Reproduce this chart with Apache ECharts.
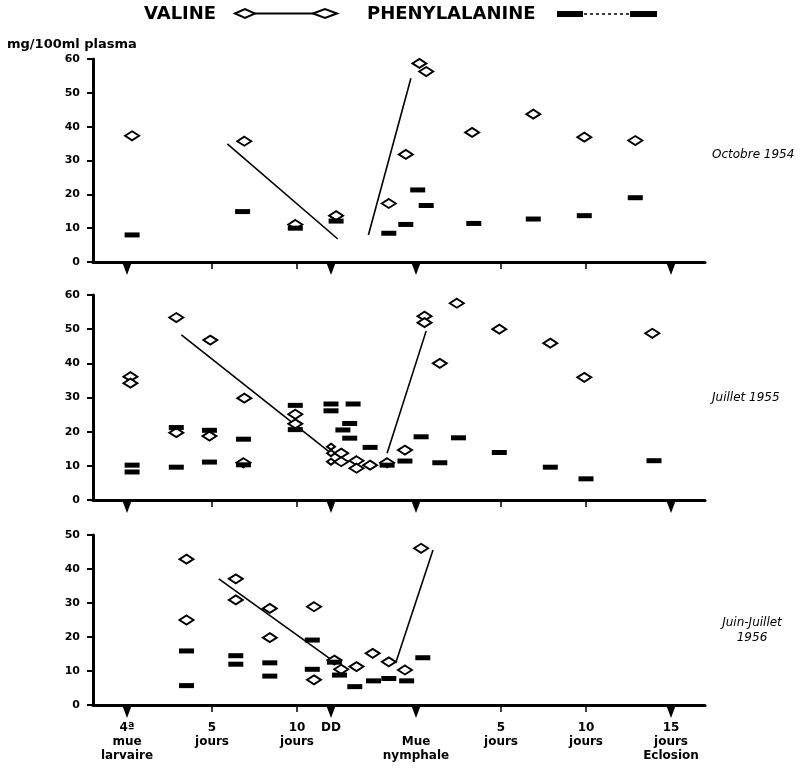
<!DOCTYPE html>
<html>
<head>
<meta charset="utf-8">
<script src="https://cdn.jsdelivr.net/npm/echarts@6/dist/echarts.min.js"></script>
<style>
html,body{margin:0;padding:0;background:#fff}
#chart{width:806px;height:772px}
</style>
</head>
<body>
<div id="chart"></div>
<script>
// axe des x en jours (0 = 4e mue larvaire, 17 = mue nymphale)
var xTickValues = [0, 5, 10, 12, 17, 22, 27, 32];
var xTickLabels = ['4ª\nmue\nlarvaire', '5\njours', '10\njours', 'DD', ' \nMue\nnymphale', '5\njours', '10\njours', '15\njours\nEclosion'];
var bigTicks = [0, 12, 17, 32];
var smallTicks = [5, 10, 22, 27];
var panelNames = ['Octobre 1954', 'Juillet 1955', 'Juin-Juillet\n1956'];
var yMaxes = [60, 60, 50];

// Octobre 1954
var valine1954 = [[0.3,37.3],[6.9,35.7],[9.9,11.1],[12.3,13.7],[15.4,17.3],[16.4,31.8],[17.2,58.7],[17.6,56.3],[20.3,38.3],[23.9,43.7],[26.9,36.9],[29.9,35.9]];
var phenyl1954 = [[0.3,8.0],[6.8,14.9],[9.9,10.0],[12.3,12.1],[15.4,8.5],[16.4,11.1],[17.1,21.3],[17.6,16.7],[20.4,11.4],[23.9,12.7],[26.9,13.7],[29.9,19.0]];
var trend1954 = [[[5.9,34.9],[12.4,6.8]], [[14.2,8.0],[16.7,54.3]]];

// Juillet 1955
var valine1955 = [[0.2,36.1],[0.2,34.2],[2.9,53.4],[2.9,19.7],[4.9,46.8],[4.85,18.7],[6.9,29.8],[6.85,10.9],[9.9,25.1],[9.9,22.3],[12.6,13.7],[12.6,11.2],[13.5,11.5],[13.5,9.3],[14.3,10.2],[15.3,10.9],[16.35,14.6],[17.5,53.8],[17.5,51.9],[18.4,40.0],[19.4,57.6],[21.9,50.0],[24.9,45.9],[26.9,35.9],[30.9,48.8]];
var valine1955Small = [[12.0,15.6],[12.0,13.7],[12.0,11.2]];
var phenyl1955 = [[0.3,10.2],[0.3,8.2],[2.9,21.2],[2.9,9.6],[4.85,20.4],[4.85,11.1],[6.85,17.8],[6.85,10.3],[9.9,27.7],[9.9,20.6],[12.0,28.1],[12.0,26.1],[13.3,28.1],[13.1,22.4],[12.7,20.5],[13.1,18.1],[14.3,15.4],[15.3,10.2],[16.35,11.4],[17.3,18.5],[18.4,10.9],[19.5,18.2],[21.9,13.9],[24.9,9.6],[27.0,6.2],[31.0,11.5]];
var trend1955 = [[[3.2,48.3],[11.9,14.1]], [[15.3,13.7],[17.6,49.5]]];

// Juin-Juillet 1956
var valine1956 = [[3.5,42.9],[3.5,25.0],[6.4,37.1],[6.4,30.9],[8.4,28.4],[8.4,19.8],[11.0,28.9],[11.0,7.4],[12.2,13.2],[12.6,10.5],[13.5,11.3],[14.45,15.2],[15.4,12.7],[16.35,10.3],[17.3,46.1]];
var phenyl1956 = [[3.5,15.9],[3.5,5.7],[6.4,14.5],[6.4,12.0],[8.4,12.4],[8.4,8.5],[10.9,19.1],[10.9,10.5],[12.2,12.6],[12.5,8.8],[13.4,5.4],[14.5,7.1],[15.4,7.8],[16.45,7.1],[17.4,13.9]];
var trend1956 = [[[5.4,37.1],[12.2,12.7]], [[15.8,12.3],[18.0,45.6]]];

var FONT = "'DejaVu Sans', sans-serif";
var grids = [
	{left: 93, width: 612, top: 59, height: 203},
	{left: 93, width: 612, top: 295, height: 205},
	{left: 93, width: 612, top: 535, height: 170}
];

var xAxes = [], yAxes = [], series = [];
for (var i = 0; i < 3; i++) {
	xAxes.push({
		gridIndex: i, type: 'value', min: -2, max: 34,
		axisLine: {onZero: false, lineStyle: {color: '#000', width: 3}},
		axisTick: {show: true, customValues: smallTicks, length: 7, lineStyle: {color: '#000', width: 1.5}},
		axisLabel: {
			show: i == 2, customValues: xTickValues, margin: 16,
			color: '#000', fontFamily: FONT, fontWeight: 'bold', fontSize: 12, lineHeight: 14,
			formatter: function (v) {
				var k = xTickValues.indexOf(v);
				return k < 0 ? '' : xTickLabels[k];
			}
		},
		splitLine: {show: false}
	});
	yAxes.push({
		gridIndex: i, type: 'value', min: 0, max: yMaxes[i], interval: 10,
		axisLine: {show: true, onZero: false, lineStyle: {color: '#000', width: 3}},
		axisTick: {show: true, length: 6, lineStyle: {color: '#000', width: 2}},
		axisLabel: {color: '#000', fontFamily: FONT, fontWeight: 'bold', fontSize: 11, margin: 13},
		splitLine: {show: false}
	});
}

function addPanel(i, valine, phenyl, trend) {
	series.push({
		name: 'VALINE', type: 'scatter', xAxisIndex: i, yAxisIndex: i,
		symbol: 'diamond', symbolSize: [14, 9], z: 3,
		itemStyle: {color: '#fff', borderColor: '#000', borderWidth: 2, opacity: 1},
		data: valine
	});
	series.push({
		name: 'PHENYLALANINE', type: 'scatter', xAxisIndex: i, yAxisIndex: i,
		symbol: 'rect', symbolSize: [15, 5], z: 4,
		itemStyle: {color: '#000', opacity: 1},
		data: phenyl
	});
	series.push({
		type: 'lines', coordinateSystem: 'cartesian2d', xAxisIndex: i, yAxisIndex: i, z: 2,
		lineStyle: {color: '#000', width: 1.6, opacity: 1},
		data: trend.map(function (seg) { return {coords: seg}; })
	});
	series.push({
		type: 'scatter', xAxisIndex: i, yAxisIndex: i, clip: false,
		symbol: 'triangle', symbolRotate: 180, symbolSize: [9, 12], symbolOffset: [0, 7], z: 5,
		itemStyle: {color: '#000', opacity: 1},
		data: bigTicks.map(function (t) { return [t, 0]; })
	});
}
addPanel(0, valine1954, phenyl1954, trend1954);
addPanel(1, valine1955, phenyl1955, trend1955);
addPanel(2, valine1956, phenyl1956, trend1956);
series.push({
	name: 'VALINE', type: 'scatter', xAxisIndex: 1, yAxisIndex: 1,
	symbol: 'diamond', symbolSize: [8, 6], z: 3,
	itemStyle: {color: '#fff', borderColor: '#000', borderWidth: 2, opacity: 1},
	data: valine1955Small
});

var labelPos = [[712, 155], [712, 398], [752, 630]];
var graphics = [
	{type: 'text', style: {text: 'VALINE', x: 144, y: 14, fill: '#000', font: 'bold 18px ' + FONT, verticalAlign: 'middle'}},
	{type: 'polygon', shape: {points: [[235,13.5],[245,9],[255,13.5],[245,18]]}, style: {fill: '#fff', stroke: '#000', lineWidth: 2}},
	{type: 'line', shape: {x1: 255, y1: 13.5, x2: 313, y2: 13.5}, style: {stroke: '#000', lineWidth: 2}},
	{type: 'polygon', shape: {points: [[313,13.5],[325,9],[337,13.5],[325,18]]}, style: {fill: '#fff', stroke: '#000', lineWidth: 2}},
	{type: 'text', style: {text: 'PHENYLALANINE', x: 367, y: 14, fill: '#000', font: 'bold 18px ' + FONT, verticalAlign: 'middle'}},
	{type: 'rect', shape: {x: 557, y: 11, width: 26, height: 6}, style: {fill: '#000'}},
	{type: 'line', shape: {x1: 584, y1: 14, x2: 630, y2: 14}, style: {stroke: '#000', lineWidth: 1.5, lineDash: [3, 3]}},
	{type: 'rect', shape: {x: 630, y: 11, width: 27, height: 6}, style: {fill: '#000'}},
	{type: 'text', style: {text: 'mg/100ml plasma', x: 7, y: 45, fill: '#000', font: 'bold 13px ' + FONT, verticalAlign: 'middle'}}
];
for (var j = 0; j < 3; j++) {
	graphics.push({
		type: 'text',
		style: {
			text: panelNames[j], x: labelPos[j][0], y: labelPos[j][1], fill: '#000',
			font: 'italic 12px ' + FONT, lineHeight: 15,
			align: j == 2 ? 'center' : 'left', verticalAlign: 'middle'
		}
	});
}

var chart = echarts.init(document.getElementById('chart'));
chart.setOption({
	animation: false,
	backgroundColor: '#fff',
	grid: grids,
	xAxis: xAxes,
	yAxis: yAxes,
	series: series,
	graphic: graphics
});
</script>
</body>
</html>
